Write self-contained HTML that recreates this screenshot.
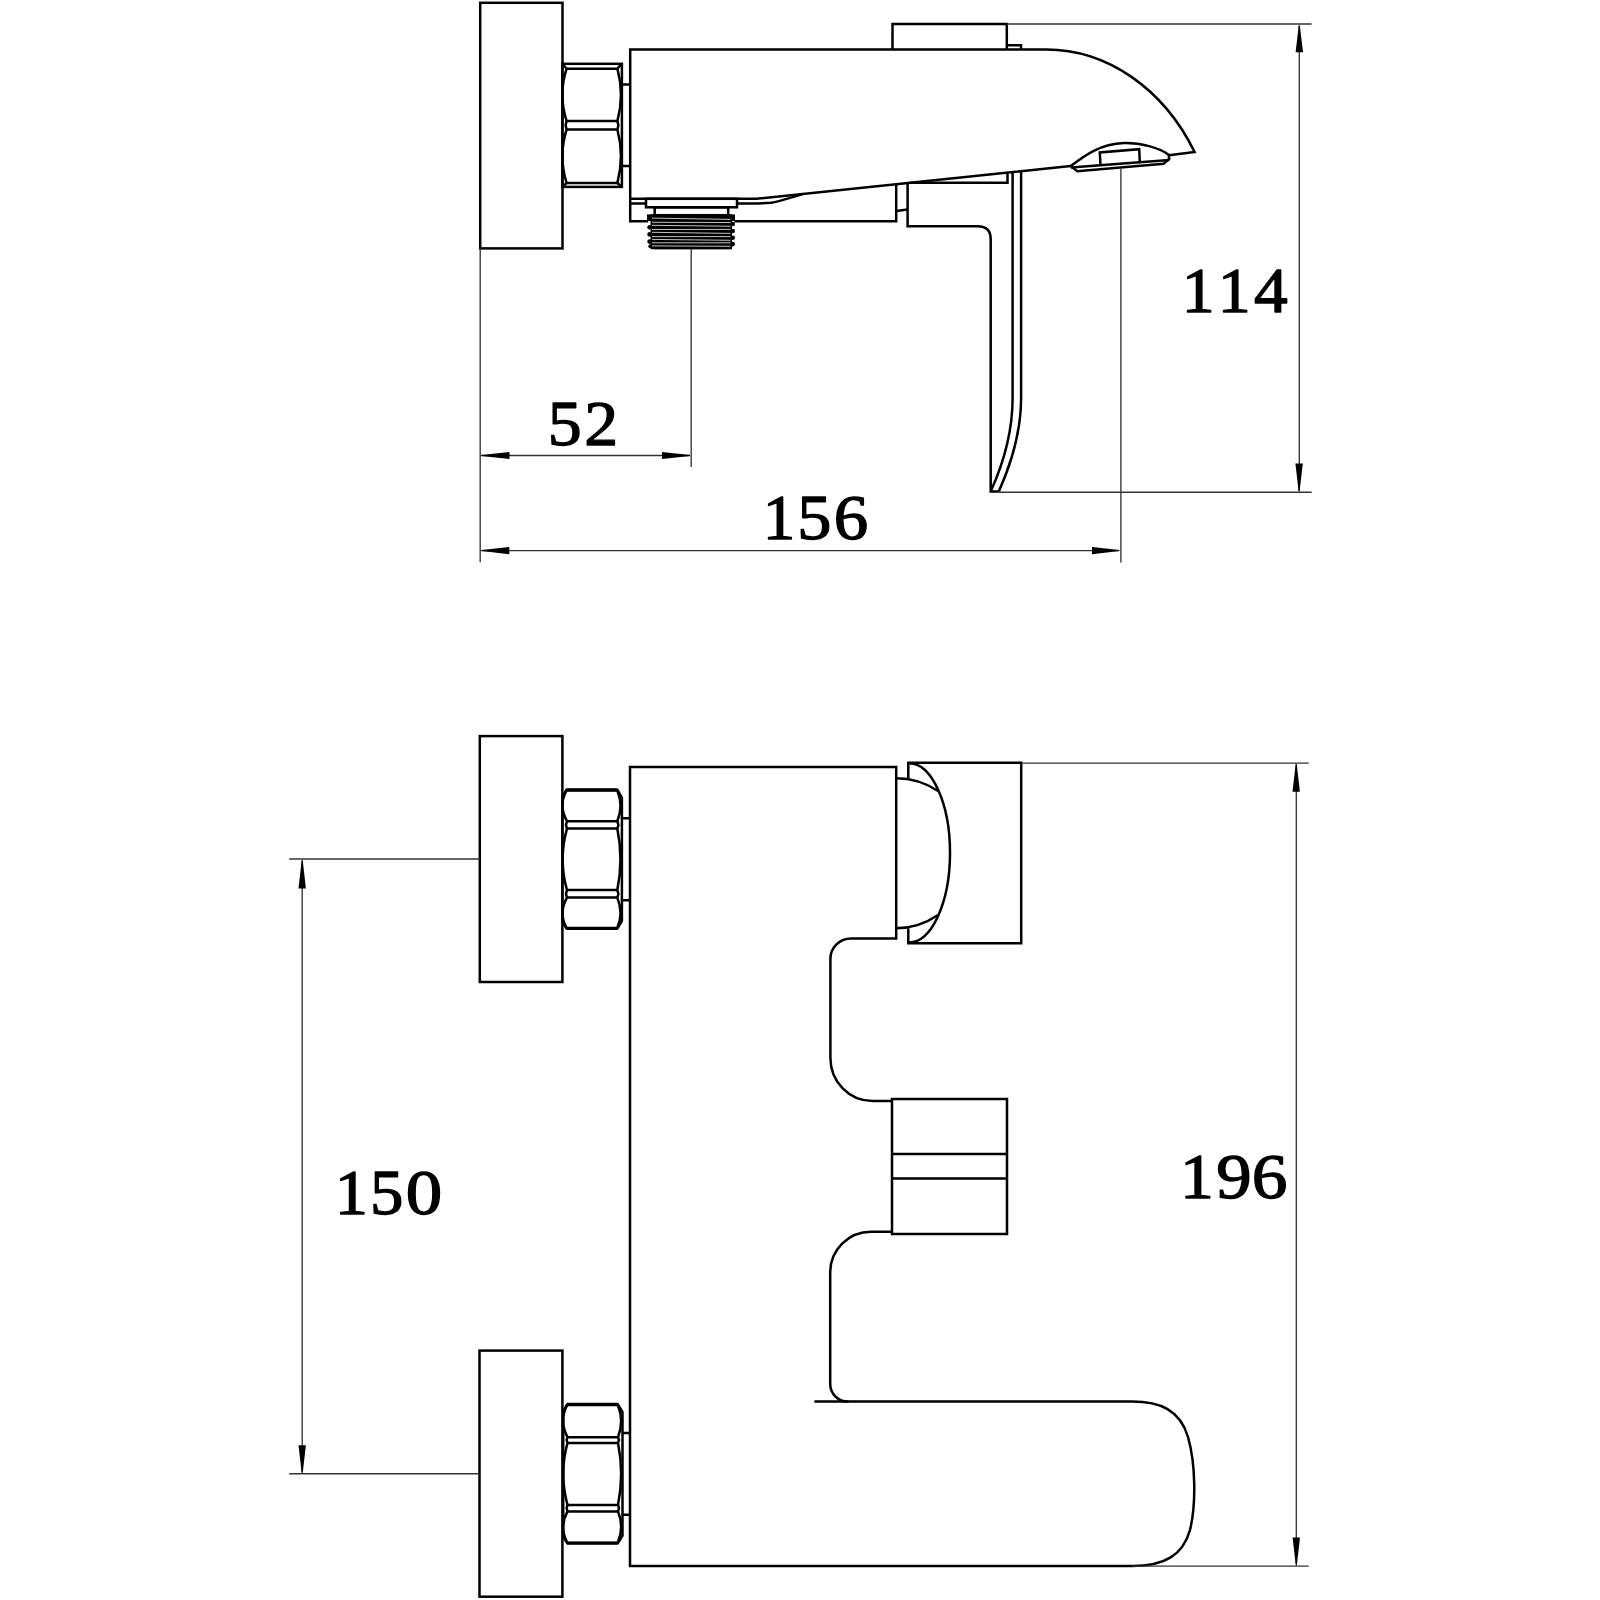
<!DOCTYPE html>
<html><head><meta charset="utf-8"><title>Drawing</title>
<style>
html,body{margin:0;padding:0;background:#fff;}
svg{display:block;}
text{font-family:"Liberation Serif",serif;fill:#000;}
</style></head>
<body>
<svg xmlns="http://www.w3.org/2000/svg" width="1600" height="1600" viewBox="0 0 1600 1600">
<rect width="1600" height="1600" fill="#fff"/>

<!-- ============ TOP VIEW ============ -->
<g fill="none" stroke="#000" stroke-width="2.5" stroke-linejoin="miter">
  <!-- wall plate -->
  <rect x="480.2" y="2.8" width="82.3" height="245.6"/>
  <!-- nut -->
  <rect x="562.3" y="63.8" width="59.6" height="123.1"/>
  <path d="M566.6,68.7 H617.4 M566.6,121.1 H617.4 M566.6,129.5 H617.4 M566.6,183 H617.4"/>
  <path d="M566.6,68.7 Q558.2,94.5 566.6,121.1 M617.4,68.7 Q624.5,94.5 617.4,121.1"/>
  <path d="M566.6,129.5 Q558.2,156 566.6,183 M617.4,129.5 Q624.5,156 617.4,183"/>
  <path d="M562.8,64.2 L566.6,68.7 M621.4,64.2 L617.4,68.7 M562.8,186.5 L566.6,183 M621.4,186.5 L617.4,183"/>
  <path d="M566.6,121.1 L565.6,125.3 L566.6,129.5 M617.4,121.1 L618.4,125.3 L617.4,129.5"/>
  <!-- connectors -->
  <path d="M621.9,84.4 H630.2 M621.9,166.1 H630.2"/>
  <!-- body -->
  <path d="M1169,155.2 L1194.6,152 A172.7,209.6 0 0 0 1046,49.5 H630.2 V221.3 H648.2"/>
  <path d="M734.4,221.3 H896.2 V184.2"/>
  <path d="M630.2,198.8 H756.2 L1070.8,166.1"/>
  <path d="M630.2,203.4 H646 M737,203.6 H757 L771,202.7 C781,201.5 790,197.5 802,194.3"/>
  <!-- flange + neck -->
  <rect x="646" y="198.8" width="91" height="8.5"/>
  <rect x="654.7" y="207.3" width="73.5" height="7.9"/>
  <!-- top button -->
  <path d="M892.5,49.5 V24 H1006.8 V49.5 M1006.8,45.2 H1021 V49.5"/>
  <!-- nozzle -->
  <path d="M1070.8,166.1 C1085,155 1100,144 1124,143 C1140,142.5 1160,148 1168.7,154.8 L1169.2,159 L1163.6,163.8 L1077.3,171.3 Z"/>
  <path d="M1070.8,167.5 L1169.2,160"/>
  <path d="M1100.5,165.2 L1099.8,152.5 L1139.2,149.2 L1139.8,161.9"/>
  <!-- lever base -->
  <path d="M896.2,210.9 L907.6,209.5 M907.6,183.8 V226.3 H977.7 Q990.7,226.3 990.7,239.3 V491.5 H998.8"/>
  <path d="M909.7,182.7 H1007.5 V172.4"/>
  <path d="M1012.6,171.8 V398 C1012.6,430 1004,462 990.9,491"/>
  <path d="M1021.1,170.9 V398 C1021.1,430 1012,462 998.8,491.5"/>
</g>
<!-- thread -->
<g fill="#000" stroke="none">
  <rect x="650.5" y="214.4" width="81.5" height="34.8"/>
  <rect x="647" y="214.4" width="88" height="6.5"/>
  <circle cx="649.6" cy="227.2" r="2.3"/><circle cx="649.6" cy="234.4" r="2.3"/><circle cx="649.6" cy="241.6" r="2.3"/><circle cx="650.3" cy="246.2" r="2"/>
  <circle cx="732.7" cy="224" r="2.3"/><circle cx="732.7" cy="231" r="2.3"/><circle cx="732.7" cy="237.8" r="2.3"/><circle cx="732.7" cy="244" r="2.3"/>
  <path d="M650.5,246 L653,249.2 H730 L734.5,244.5 Z"/>
</g>
<path d="M652,218.1 L730.5,219.4 M652,222.3 L730.5,222.5 M652,225.3 L730.5,226.25 M652,229.5 L730.5,229.4 M652,232.3 L730.5,233.4 M652,236.6 L730.5,236.6 M652,239.4 L730.5,240.3 M652,242.8 L730.5,242.8 M652,245.9 L730.5,246.25" fill="none" stroke="#fff" stroke-width="0.9" stroke-opacity="0.85"/>

<!-- dimension lines top view -->
<g fill="none" stroke="#333" stroke-width="1.35">
  <path d="M1006.8,24 H1311.5"/>
  <path d="M1299.3,26 V491"/>
  <path d="M998.8,492.2 H1311.7"/>
  <path d="M480.2,248 V562.2"/>
  <path d="M691.2,249 V467"/>
  <path d="M481,455.5 H690"/>
  <path d="M1120.9,169 V562.5"/>
  <path d="M481,550.6 H1119"/>
</g>
<g fill="#000" stroke="none">
  <path d="M1298.8,25.2 L1295.6,52.3 L1303.0,52.3 L1299.8,25.2 Z"/>
  <path d="M1298.6,491.2 L1295.3999999999999,463.4 L1302.8,463.4 L1299.6,491.2 Z"/>
  <path d="M481.6,455.0 L509.5,451.9 L509.5,459.1 L481.6,456.0 Z"/>
  <path d="M690.0,455.0 L662.0,451.9 L662.0,459.1 L690.0,456.0 Z"/>
  <path d="M481.6,550.1 L509.3,547.0 L509.3,554.2 L481.6,551.1 Z"/>
  <path d="M1119.3,550.1 L1092.0,547.0 L1092.0,554.2 L1119.3,551.1 Z"/>
</g>

<!-- ============ FRONT VIEW ============ -->
<g fill="none" stroke="#000" stroke-width="2.5">
  <!-- plate 1 -->
  <rect x="479.8" y="736.1" width="82.6" height="245.9"/>
  <!-- nut 1 -->
  <path d="M566.3,790 H617.5 L621.9,797.5 V920.8 L617.5,928.3 H566.3 L562.4,921.5 V796.8 Z"/>
  <path d="M566.3,790 H617.5 M566.3,928.3 H617.5" stroke-width="3.3"/>
  <path d="M567,821.2 H617.3 M567,828.6 H617.3 M567,890.1 H617.3 M567,897.6 H617.3"/>
  <path d="M566.3,791 Q558.3,806 567,821.2 M617.5,791 Q623.6,806 617.3,821.2"/>
  <path d="M567,828.6 Q558.3,859.4 567,890.1 M617.3,828.6 Q623.6,859.4 617.3,890.1"/>
  <path d="M567,897.6 Q558.3,913 566.3,927.3 M617.3,897.6 Q623.6,913 617.5,927.3"/>
  <path d="M567,821.2 L566,825 L567,828.6 M617.3,821.2 L618.4,825 L617.3,828.6 M567,890.1 L566,894 L567,897.6 M617.3,890.1 L618.4,894 L617.3,897.6"/>
  <path d="M621.9,818.3 H630 M621.9,900.3 H630"/>
  <!-- plate 2 -->
  <rect x="479.5" y="1350.6" width="82.9" height="246.1"/>
  <!-- nut 2 -->
  <path d="M567,1404.5 H618 L622.5,1412 V1535.6 L618,1543.1 H567 L563.2,1536.3 V1411.3 Z"/>
  <path d="M567,1404.5 H618 M567,1543.1 H618" stroke-width="3.3"/>
  <path d="M567.5,1437.2 H618 M567.5,1442.9 H618 M567.5,1504.9 H618 M567.5,1511.4 H618"/>
  <path d="M567,1405.5 Q559,1421 567.5,1437.2 M618,1405.5 Q624.3,1421 618,1437.2"/>
  <path d="M567.5,1442.9 Q559,1474 567.5,1504.9 M618,1442.9 Q624.3,1474 618,1504.9"/>
  <path d="M567.5,1511.4 Q559,1527 567,1542.1 M618,1511.4 Q624.3,1527 618,1542.1"/>
  <path d="M567.5,1437.2 L566.6,1440 L567.5,1442.9 M618,1437.2 L619,1440 L618,1442.9 M567.5,1504.9 L566.6,1508 L567.5,1511.4 M618,1504.9 L619,1508 L618,1511.4"/>
  <path d="M622.5,1433 H630 M622.5,1514.7 H630"/>
  <!-- body -->
  <path d="M892,1101 H872.4 A42,43 0 0 1 830.4,1058 V959 A20.6,20.6 0 0 1 851,938.4 H896.2 V767 H630 V1566 H1132 C1165,1566 1183,1555 1190,1530 C1196,1505 1196,1465 1188,1437 C1180,1410 1160,1401.6 1132,1401.6 H814.4"/>
  <path d="M892,1231.8 H870.9 A40.7,40.7 0 0 0 830.2,1272.5 V1384 A17.6,17.6 0 0 0 848.6,1401.6"/>
  <!-- small rect -->
  <rect x="892" y="1099" width="115" height="135"/>
  <path d="M892,1154 H1007 M892,1178.6 H1007"/>
  <!-- right rect with dome -->
  <path d="M908.3,778.2 V762.8 H1021.2 V943.2 H908.3 V928.3"/>
  <path d="M909,763.3 A41,89.5 0 0 1 909,942.4"/>
  <path d="M896.2,778.2 A75,75 0 0 1 938,791"/>
  <path d="M896.2,928.3 A75,75 0 0 0 938,915"/>
</g>
<g fill="none" stroke="#333" stroke-width="1.35">
  <path d="M1021.2,763.1 H1308.7"/>
  <path d="M1296.3,765 V1564"/>
  <path d="M1132,1566.1 H1308.7"/>
  <path d="M289.2,859 H479.8"/>
  <path d="M302.2,861 V1472"/>
  <path d="M289.2,1473.7 H479.5"/>
</g>
<g fill="#000" stroke="none">
  <path d="M1295.7,763.8 L1292.5,791.8 L1299.9,791.8 L1296.7,763.8 Z"/>
  <path d="M1295.8,1565.4 L1292.6,1537.5 L1300.0,1537.5 L1296.8,1565.4 Z"/>
  <path d="M301.7,860.0 L298.5,888.4 L305.9,888.4 L302.7,860.0 Z"/>
  <path d="M301.7,1473.0 L298.5,1445.2 L305.9,1445.2 L302.7,1473.0 Z"/>
</g>

<g class="dims" font-size="63.2" stroke="#000" stroke-width="1.3" stroke-linejoin="round">
<text transform="translate(1181.78,312) scale(1.043,1)">1</text>
<text transform="translate(1217.78,312) scale(1.043,1)">1</text>
<text transform="translate(1253.93,312) scale(1.067,1)">4</text>
<text transform="translate(547.78,445) scale(1.074,1)">5</text>
<text transform="translate(584.15,445) scale(1.074,1)">2</text>
<text transform="translate(762.75,539) scale(1.030,1)">1</text>
<text transform="translate(797.36,539) scale(1.080,1)">5</text>
<text transform="translate(833.82,539) scale(1.089,1)">6</text>
<text transform="translate(1179.95,1197.6) scale(1.070,1)">1</text>
<text transform="translate(1216.26,1197.6) scale(1.120,1)">9</text>
<text transform="translate(1251.74,1197.6) scale(1.129,1)">6</text>
<text transform="translate(334.76,1214.4) scale(1.048,1)">1</text>
<text transform="translate(369.93,1214.4) scale(1.056,1)">5</text>
<text transform="translate(405.79,1214.4) scale(1.154,1)">0</text>
</g>
</svg>
</body></html>
